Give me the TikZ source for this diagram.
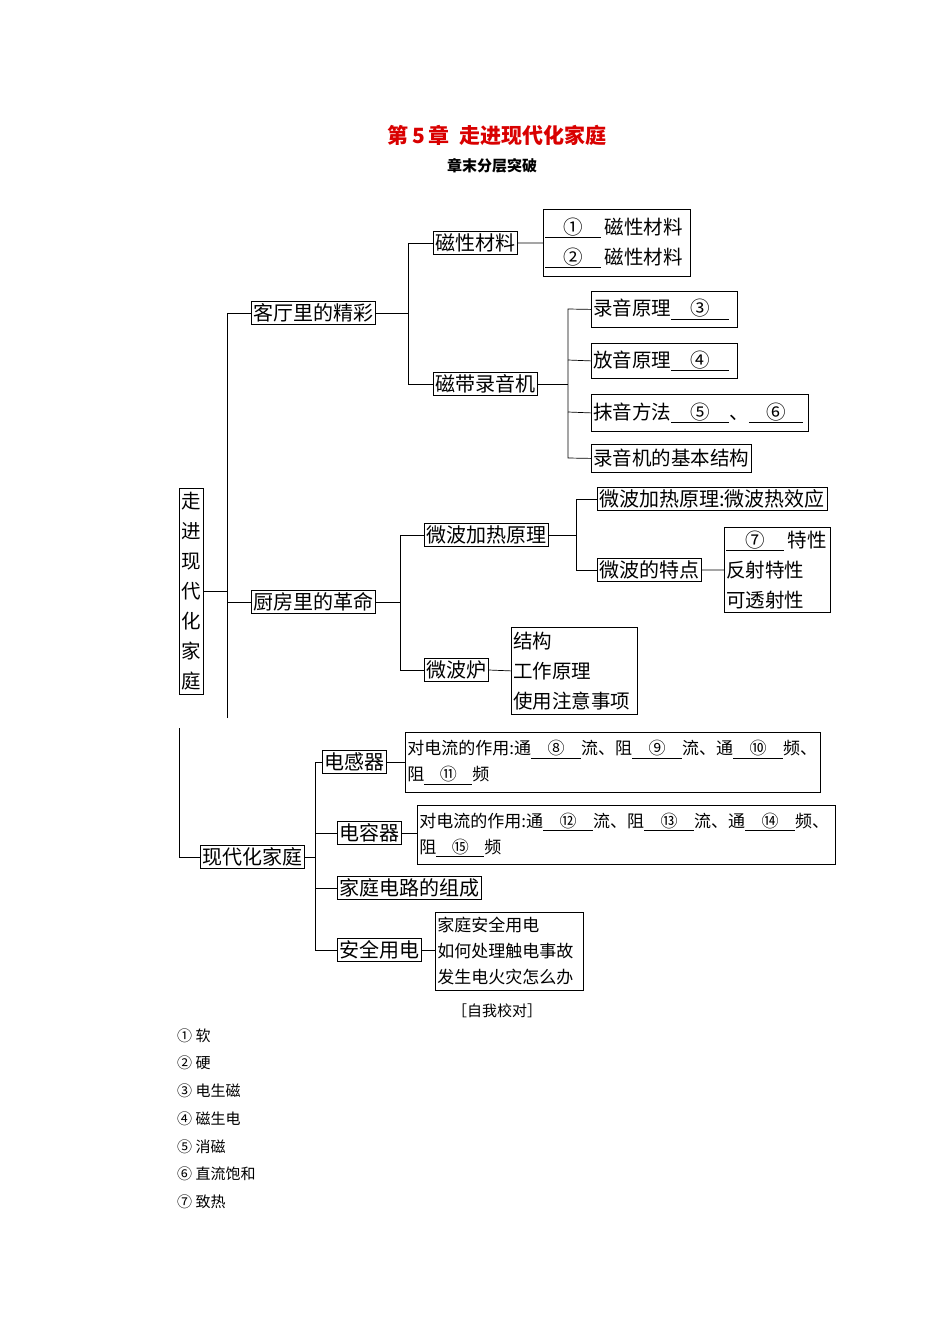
\documentclass[tikz,border=0pt]{standalone}
\usepackage{fontspec}
\setmainfont{Noto Sans CJK SC}
\newcommand{\blk}[2]{\underline{\makebox[#1pt]{#2}}}
\begin{document}
\begin{tikzpicture}[x=1pt,y=-1pt,
 bx/.style={draw,line width=0.8pt,inner sep=2pt,font=\fontsize{20}{22}\selectfont,anchor=west},
 mb/.style={draw,line width=0.8pt,inner sep=2pt,align=left,anchor=north west,font=\fontsize{19.5}{30}\selectfont},
 sb/.style={draw,line width=0.8pt,inner sep=2pt,align=left,anchor=north west,font=\fontsize{17}{26}\selectfont},
 ln/.style={line width=0.7pt}]
\fill[white] (0,0) rectangle (950,1344);
\node[text=red!85!black,font=\fontsize{21}{24}\selectfont\bfseries] (title) at (497,135) {第\,5\,章\ \ 走进现代化家庭};
\node[font=\fontsize{15}{18}\selectfont\bfseries] (sub) at (492,166) {章末分层突破};
% root
\node[draw,line width=0.8pt,inner sep=2pt,align=center,font=\fontsize{19.5}{30}\selectfont,text width=20pt,minimum height=206pt] (root) at (191,591) {走\\进\\现\\代\\化\\家\\庭};
\node[bx] (kt) at (251,313) {客厅里的精彩};
\node[bx] (cf) at (251,602) {厨房里的革命};
\coordinate (t1) at (227,313);
\coordinate (t2) at (227,718);
\draw[ln] (t2) -- (t1) -- (kt.west);
\draw[ln] (cf.west) -- (cf.west -| t1);
\draw[ln] (root.east) -- (root.east -| t1);
% 客厅
\node[bx] (cx) at (433,243) {磁性材料};
\node[bx] (cd) at (433,384) {磁带录音机};
\draw[ln] (kt.east) -- (408,313);
\draw[ln] (cx.west) -- (408,243) -- (408,384) -- (cd.west);
\node[mb,text width=143pt,minimum height=67pt] (cxb) at (543,209) {\blk{56}{①}\,磁性材料\\\blk{56}{②}\,磁性材料};
\draw[ln] (cx.east) -- (cxb.west);
\node[mb,text width=142pt,minimum height=36pt] (ly) at (591,291) {录音原理\blk{58}{③}};
\node[mb,text width=142pt,minimum height=35pt] (fy) at (591,343) {放音原理\blk{58}{④}};
\node[mb,text width=213pt,minimum height=37pt] (my) at (591,394) {抹音方法\blk{58}{⑤}、\blk{54}{⑥}};
\node[mb,minimum height=28pt] (jg) at (591,444) {录音机的基本结构};
\draw[ln] (cd.east) -- (568,384);
\draw[ln] (ly.west) -- (568,309) -- (568,458) -- (jg.west);
\draw[ln] (fy.west) -- (568,360);
\draw[ln] (my.west) -- (568,412);
% 厨房
\node[bx] (wj) at (424,535) {微波加热原理};
\node[bx] (wl) at (424,670) {微波炉};
\draw[ln] (cf.east) -- (400,602);
\draw[ln] (wj.west) -- (400,535) -- (400,670) -- (wl.west);
\node[bx] (wr) at (597,499) {微波加热原理:微波热效应};
\node[bx] (wt) at (597,570) {微波的特点};
\draw[ln] (wj.east) -- (576,535);
\draw[ln] (wr.west) -- (576,499) -- (576,570) -- (wt.west);
\node[mb,text width=102pt,minimum height=85pt] (tx) at (724,527) {\blk{58}{⑦}\,特性\\反射特性\\可透射性};
\draw[ln] (wt.east) -- (tx.west);
\node[mb,text width=122pt,minimum height=87pt] (wlb) at (511,627) {结构\\工作原理\\使用注意事项};
\draw[ln] (wl.east) -- (wlb.west);
% 现代化家庭
\node[bx] (xd) at (200,857) {现代化家庭};
\draw[ln] (179,728) -- (179,857) -- (xd.west);
\node[bx] (dg) at (322,762) {电感器};
\node[bx] (dr) at (337,833) {电容器};
\node[bx] (jt) at (337,888) {家庭电路的组成};
\node[bx] (aq) at (337,950) {安全用电};
\draw[ln] (xd.east) -- (315,857);
\draw[ln] (dg.west) -- (315,762) -- (315,950) -- (aq.west);
\draw[ln] (dr.west) -- (315,833);
\draw[ln] (jt.west) -- (315,888);
\node[sb,text width=411pt,minimum height=60pt] (dgb) at (405,732) {对电流的作用:通\blk{50}{⑧}流、阻\blk{50}{⑨}流、通\blk{50}{⑩}频、\\阻\blk{48}{⑪}频};
\draw[ln] (dg.east) -- (dgb.west |- dg.east);
\node[sb,text width=414pt,minimum height=59pt] (drb) at (417,805) {对电流的作用:通\blk{50}{⑫}流、阻\blk{50}{⑬}流、通\blk{50}{⑭}频、\\阻\blk{48}{⑮}频};
\draw[ln] (dr.east) -- (drb.west |- dr.east);
\node[sb,text width=144pt,minimum height=78pt] (aqb) at (435,912) {家庭安全用电\\如何处理触电事故\\发生电火灾怎么办};
\draw[ln] (aq.east) -- (aqb.west |- aq.east);
% answers
\node[font=\fontsize{15}{18}\selectfont] (zw) at (497,1011) {［自我校对］};
\foreach \t/\yy [count=\i] in {① 软/1036,② 硬/1063,③ 电生磁/1091,④ 磁生电/1119,⑤ 消磁/1147,⑥ 直流饱和/1174,⑦ 致热/1202}
  \node[anchor=west,inner sep=0pt,font=\fontsize{15}{18}\selectfont] (a\i) at (177,\yy) {\t};
\end{tikzpicture}
\end{document}
